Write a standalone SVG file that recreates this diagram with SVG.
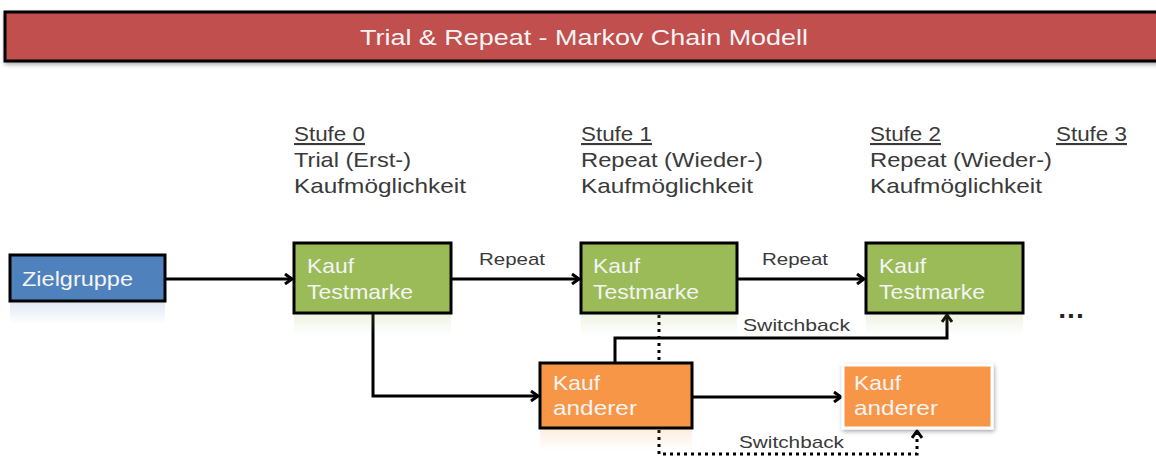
<svg xmlns="http://www.w3.org/2000/svg" width="1156" height="456" viewBox="0 0 1156 456">
<defs>
<style>
.lbl{font-family:"Liberation Sans",Arial,sans-serif;font-size:21px;fill:#3a3a3a}
.small{font-family:"Liberation Sans",Arial,sans-serif;font-size:17px;fill:#3a3a3a}
.box{font-family:"Liberation Sans",Arial,sans-serif;font-size:21px;fill:#f4f4f4}
.green{fill:#9BBB59;stroke:#000;stroke-width:3}
.orange{fill:#F79646;stroke:#000;stroke-width:3}
.con{fill:none;stroke:#000;stroke-width:3}
.dot{fill:none;stroke:#000;stroke-width:3;stroke-dasharray:3 4}
</style>
<marker id="ah" markerWidth="12" markerHeight="12" refX="9" refY="6" orient="auto" markerUnits="userSpaceOnUse">
<path d="M2,1 L9,6 L2,11" fill="none" stroke="#000" stroke-width="3"/>
</marker>
<linearGradient id="refl" x1="0" y1="0" x2="0" y2="1">
<stop offset="0" stop-color="#9BBB59" stop-opacity="0.18"/>
<stop offset="1" stop-color="#9BBB59" stop-opacity="0"/>
</linearGradient>
<linearGradient id="reflO" x1="0" y1="0" x2="0" y2="1">
<stop offset="0" stop-color="#F79646" stop-opacity="0.18"/>
<stop offset="1" stop-color="#F79646" stop-opacity="0"/>
</linearGradient>
<linearGradient id="reflB" x1="0" y1="0" x2="0" y2="1">
<stop offset="0" stop-color="#4F81BD" stop-opacity="0.18"/>
<stop offset="1" stop-color="#4F81BD" stop-opacity="0"/>
</linearGradient>
<filter id="sh" x="-5%" y="-10%" width="110%" height="130%">
<feDropShadow dx="1" dy="2" stdDeviation="2" flood-color="#000" flood-opacity="0.35"/>
</filter>
</defs>
<rect width="1156" height="456" fill="#fff"/>

<g id="title">
<rect x="5" y="12" width="1160" height="49" fill="#C0504D" stroke="#000" stroke-width="3" filter="url(#sh)"/>
<text x="584" y="45" text-anchor="middle" font-family="'Liberation Sans',Arial,sans-serif" font-size="22" fill="#f4f4f4" textLength="448" lengthAdjust="spacingAndGlyphs">Trial &amp; Repeat - Markov Chain Modell</text>
</g>

<g id="stages">
<text class="lbl" x="294" y="141" text-decoration="underline" textLength="71" lengthAdjust="spacingAndGlyphs">Stufe 0</text>
<text class="lbl" x="294" y="167" textLength="117" lengthAdjust="spacingAndGlyphs">Trial (Erst-)</text>
<text class="lbl" x="294" y="193" textLength="172" lengthAdjust="spacingAndGlyphs">Kaufmöglichkeit</text>
<text class="lbl" x="581" y="141" text-decoration="underline" textLength="71" lengthAdjust="spacingAndGlyphs">Stufe 1</text>
<text class="lbl" x="581" y="167" textLength="182" lengthAdjust="spacingAndGlyphs">Repeat (Wieder-)</text>
<text class="lbl" x="581" y="193" textLength="172" lengthAdjust="spacingAndGlyphs">Kaufmöglichkeit</text>
<text class="lbl" x="870" y="141" text-decoration="underline" textLength="71" lengthAdjust="spacingAndGlyphs">Stufe 2</text>
<text class="lbl" x="870" y="167" textLength="182" lengthAdjust="spacingAndGlyphs">Repeat (Wieder-)</text>
<text class="lbl" x="870" y="193" textLength="172" lengthAdjust="spacingAndGlyphs">Kaufmöglichkeit</text>
<text class="lbl" x="1056" y="141" text-decoration="underline" textLength="71" lengthAdjust="spacingAndGlyphs">Stufe 3</text>
<text x="1058" y="318" font-family="'DejaVu Sans',sans-serif" font-size="22" font-weight="bold" fill="#222" textLength="26" lengthAdjust="spacing">...</text>
</g>

<g id="connectors">
<line class="con" x1="165" y1="279" x2="292" y2="279" marker-end="url(#ah)"/>
<line class="con" x1="451" y1="279" x2="579" y2="279" marker-end="url(#ah)"/>
<line class="con" x1="737" y1="279" x2="864" y2="279" marker-end="url(#ah)"/>
<polyline class="con" points="373,313 373,396 538,396" marker-end="url(#ah)"/>
<polyline class="con" points="615,363 615,338 947,338 947,315" marker-end="url(#ah)"/>
<line class="con" x1="692" y1="397" x2="841" y2="397" marker-end="url(#ah)"/>
<line class="dot" x1="659" y1="315" x2="659" y2="362"/>
<polyline class="dot" points="659,430 659,454 917,454 917,431" marker-end="url(#ah)"/>
<text class="small" x="479" y="265" textLength="66" lengthAdjust="spacingAndGlyphs">Repeat</text>
<text class="small" x="762" y="265" textLength="66" lengthAdjust="spacingAndGlyphs">Repeat</text>
<text class="small" x="743" y="331" textLength="107" lengthAdjust="spacingAndGlyphs">Switchback</text>
<text class="small" x="739" y="448" textLength="105" lengthAdjust="spacingAndGlyphs">Switchback</text>
</g>

<g id="zielgruppe">
<rect x="10" y="302" width="155" height="22" fill="url(#reflB)"/>
<rect x="10" y="255" width="155" height="46" fill="#4F81BD" stroke="#000" stroke-width="3"/>
<text class="box" x="22" y="286" textLength="111" lengthAdjust="spacingAndGlyphs">Zielgruppe</text>
</g>

<g id="kauf-test-0">
<rect x="294" y="313" width="157" height="22" fill="url(#refl)"/>
<rect class="green" x="294" y="243" width="157" height="70"/>
<text class="box" x="307" y="273" textLength="47" lengthAdjust="spacingAndGlyphs">Kauf</text>
<text class="box" x="307" y="299" textLength="106" lengthAdjust="spacingAndGlyphs">Testmarke</text>
</g>

<g id="kauf-test-1">
<rect x="581" y="313" width="156" height="22" fill="url(#refl)"/>
<rect class="green" x="581" y="243" width="156" height="70"/>
<text class="box" x="593" y="273" textLength="47" lengthAdjust="spacingAndGlyphs">Kauf</text>
<text class="box" x="593" y="299" textLength="106" lengthAdjust="spacingAndGlyphs">Testmarke</text>
</g>

<g id="kauf-test-2">
<rect x="866" y="313" width="157" height="22" fill="url(#refl)"/>
<rect class="green" x="866" y="243" width="157" height="70"/>
<text class="box" x="879" y="273" textLength="47" lengthAdjust="spacingAndGlyphs">Kauf</text>
<text class="box" x="879" y="299" textLength="106" lengthAdjust="spacingAndGlyphs">Testmarke</text>
</g>

<g id="kauf-anderer-1">
<rect x="540" y="428" width="152" height="22" fill="url(#reflO)"/>
<rect class="orange" x="540" y="363" width="152" height="65"/>
<text class="box" x="553" y="390" textLength="47" lengthAdjust="spacingAndGlyphs">Kauf</text>
<text class="box" x="553" y="415" textLength="84" lengthAdjust="spacingAndGlyphs">anderer</text>
</g>

<g id="kauf-anderer-2">
<rect x="843" y="365" width="149" height="63" fill="#F79646" stroke="#fff" stroke-width="3" filter="url(#sh)"/>
<text class="box" x="854" y="390" textLength="47" lengthAdjust="spacingAndGlyphs">Kauf</text>
<text class="box" x="854" y="415" textLength="84" lengthAdjust="spacingAndGlyphs">anderer</text>
</g>
</svg>
